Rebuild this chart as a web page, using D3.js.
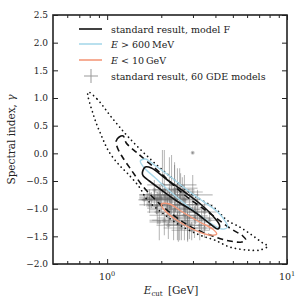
<!DOCTYPE html>
<meta charset="utf-8">
<script src="https://d3js.org/d3.v7.min.js"></script>
<style>
  body { margin: 0; background: #fff; }
  text { font-family: "DejaVu Serif", "Liberation Serif", serif; fill: #222; }
  .frame { fill: none; stroke: #222; stroke-width: 1.6; }
  .tick line { stroke: #222; }
</style>
<body></body>
<script>

// ---- data (E_cut in GeV, gamma) ----

// 3 sigma region (dotted)
var sigma3 = [
  [0.783, 1.108], [0.879, 0.982], [1.066, 0.638], [1.327, 0.277], [1.762, -0.121],
  [2.367, -0.482], [3.062, -0.771], [3.96, -0.988], [4.62, -1.205], [5.463, -1.332],
  [6.376, -1.476], [7.34, -1.621], [7.83, -1.675], [7.07, -1.747], [5.98, -1.747],
  [4.80, -1.693], [3.96, -1.567], [3.266, -1.476], [2.525, -1.295], [2.029, -1.079],
  [1.673, -0.844], [1.509, -0.609], [1.293, -0.356], [1.167, -0.211], [1.026, 0.024],
  [0.926, 0.331], [0.846, 0.657]
];

// 2 sigma region (dashed)
var sigma2 = [
  [1.123, 0.223], [1.167, 0.295], [1.228, 0.313], [1.277, 0.187], [1.471, 0.006],
  [1.952, -0.338], [2.693, -0.753], [3.714, -1.079], [4.803, -1.350], [5.678, -1.494],
  [5.90, -1.567], [5.605, -1.603], [4.803, -1.585], [3.860, -1.494], [2.871, -1.313],
  [2.082, -0.988], [1.610, -0.627], [1.362, -0.301], [1.197, -0.030], [1.137, 0.114]
];

// 1 sigma, standard result model F
var sigma1 = [
  [1.569, -0.356], [1.630, -0.247], [1.762, -0.265], [2.164, -0.482], [2.693, -0.699],
  [3.351, -0.934], [3.961, -1.169], [4.224, -1.313], [4.117, -1.368], [3.811, -1.296],
  [3.062, -1.060], [2.461, -0.870], [2.003, -0.663], [1.717, -0.500], [1.589, -0.410]
];

// 1 sigma, E > 600 MeV
var sigmaHigh = [
  [1.529, -0.139], [1.630, -0.103], [1.830, -0.211], [2.221, -0.410], [2.693, -0.627],
  [3.266, -0.826], [4.117, -1.060], [4.563, -1.241], [4.68, -1.332], [4.335, -1.368],
  [3.483, -1.187], [2.798, -0.952], [2.221, -0.681], [1.830, -0.428], [1.610, -0.265]
];

// 1 sigma, E < 10 GeV
var sigmaLow = [
  [2.000, -0.916], [2.221, -0.916], [2.624, -1.060], [3.266, -1.241], [3.860, -1.368],
  [4.064, -1.458], [3.714, -1.476], [2.985, -1.368], [2.429, -1.205], [2.082, -1.024]
];

// 60 GDE models: best fit and error bar ends
var gdeE    = [2.08,2.22,2.37,1.95,1.83,1.72,2.53,2.16,2.28,1.90,2.69,2.46,2.00,2.87,2.37,2.53,2.69,2.22,3.06,2.46,
               2.80,2.08,3.27,2.59,1.95,2.95,1.72,1.61,1.83,2.03,2.28,2.46,2.62,2.99,3.18,3.48,3.71,2.16,2.34,1.90,
               2.99,1.76,1.67,2.40,2.73,2.11,2.56,2.25,3.10,3.35,2.80,2.49,2.19,1.88,1.98,2.66,2.37,2.87,3.48,2.22];
var gdeELo  = [1.83,1.83,1.83,1.51,1.51,1.51,1.83,1.57,1.76,1.51,2.22,1.90,1.65,2.22,1.72,1.83,2.08,1.72,2.37,1.78,
               2.03,1.72,2.69,2.06,1.72,2.28,1.51,1.49,1.61,1.67,2.00,2.16,2.25,2.46,2.46,2.87,3.06,1.67,1.90,1.67,
               2.95,1.55,1.51,1.81,2.16,1.76,2.03,1.78,2.56,2.76,2.31,2.06,1.88,1.65,1.65,2.16,2.03,2.22,3.06,1.81];
var gdeEHi  = [3.06,3.06,3.06,2.37,2.37,2.37,3.27,2.80,3.14,2.31,3.27,3.18,2.76,3.48,3.27,3.27,3.27,3.27,3.71,3.62,
               3.62,2.87,3.96,3.35,2.53,3.71,2.22,1.95,2.37,2.62,3.14,3.18,3.40,3.86,3.86,4.06,4.12,2.99,3.10,2.53,
               3.02,2.14,2.03,3.18,3.53,2.66,3.22,2.84,3.76,3.91,3.62,3.02,2.84,2.37,2.43,3.27,2.87,3.81,3.96,2.87];
var gdeG    = [-0.66,-0.70,-0.75,-0.75,-0.79,-0.75,-0.81,-0.84,-0.88,-0.84,-0.84,-0.93,-0.93,-0.99,-1.02,-1.06,-1.12,-1.12,-1.17,-1.21,
               -1.24,-1.21,-1.30,-1.35,-1.24,-1.39,-0.93,-0.84,-0.66,-0.57,-0.57,-0.63,-0.70,-0.75,-0.93,-1.06,-1.21,-0.99,-1.17,-1.06,
               0.01,-0.84,-0.81,-0.84,-1.02,-0.77,-0.75,-0.95,-1.06,-1.17,-1.13,-1.28,-1.30,-0.95,-0.81,-0.93,-0.66,-1.30,-1.35,-0.81];
var gdeGLo  = [-0.93,-0.88,-0.93,-0.93,-0.93,-0.86,-0.95,-1.02,-1.10,-1.02,-1.02,-1.21,-1.12,-1.17,-1.17,-1.57,-1.57,-1.26,-1.53,-1.57,
               -1.57,-1.48,-1.57,-1.57,-1.57,-1.57,-1.08,-0.95,-0.81,-0.75,-0.75,-0.84,-0.88,-1.02,-1.21,-1.33,-1.39,-1.17,-1.57,-1.28,
               -0.01,-0.99,-0.92,-1.06,-1.30,-0.92,-0.90,-1.10,-1.28,-1.39,-1.60,-1.60,-1.55,-1.10,-0.95,-1.12,-0.81,-1.55,-1.53,-0.99];
var gdeGHi  = [0.06,-0.07,-0.21,-0.57,-0.65,-0.65,-0.27,-0.66,-0.70,-0.70,-0.39,-0.66,-0.75,-0.72,-0.88,-0.88,-0.93,-0.97,-0.95,-1.06,
               -1.06,-1.06,-1.12,-1.21,-1.06,-1.24,-0.79,-0.74,-0.48,0.06,-0.03,-0.27,-0.43,-0.39,-0.66,-0.88,-1.06,-0.81,-1.02,-0.92,
               0.03,-0.70,-0.70,-0.63,-0.81,-0.63,-0.36,-0.81,-0.88,-1.02,-0.99,-1.13,-1.15,-0.81,-0.59,-0.57,-0.16,-1.15,-1.21,-0.63];

// axes
var xDomain = [0.5, 10];
var yDomain = [-2, 2.5];
var xMajor = [1, 10];
var xMinor = [0.6, 0.7, 0.8, 0.9, 2, 3, 4, 5, 6, 7, 8, 9];
var yTicks = [-2, -1.5, -1, -0.5, 0, 0.5, 1, 1.5, 2, 2.5];

// legend
var legendItems = [
  {label: "standard result, model F", kind: "line", color: "#111"},
  {label: "E > 600 MeV", kind: "line", color: "#a8d8ea"},
  {label: "E < 10 GeV", kind: "line", color: "#f4997a"},
  {label: "standard result, 60 GDE models", kind: "cross", color: "#999"}
];

// ---- layout ----
var width = 300, height = 300;
var mLeft = 53, mRight = 287, mTop = 15, mBottom = 264;

var svg = d3.select("body").append("svg")
    .attr("width", width)
    .attr("height", height);

var x = d3.scaleLog().domain(xDomain).range([mLeft, mRight]);
var y = d3.scaleLinear().domain(yDomain).range([mBottom, mTop]);

svg.append("defs").append("clipPath").attr("id", "clip")
  .append("rect").attr("x", mLeft).attr("y", mTop).attr("width", mRight - mLeft).attr("height", mBottom - mTop);

var plot = svg.append("g").attr("clip-path", "url(#clip)");

// GDE error bars
var gde = gdeE.map(function(e, i) {
  return {e: e, eLo: gdeELo[i], eHi: gdeEHi[i], g: gdeG[i], gLo: gdeGLo[i], gHi: gdeGHi[i]};
});

var bars = plot.append("g")
    .attr("stroke", "#666")
    .attr("stroke-opacity", 0.45)
    .attr("stroke-width", 1.1);

bars.selectAll(".hbar").data(gde).enter().append("line")
    .attr("x1", function(d) { return x(d.eLo); })
    .attr("x2", function(d) { return x(d.eHi); })
    .attr("y1", function(d) { return y(d.g); })
    .attr("y2", function(d) { return y(d.g); });

bars.selectAll(".vbar").data(gde).enter().append("line")
    .attr("x1", function(d) { return x(d.e); })
    .attr("x2", function(d) { return x(d.e); })
    .attr("y1", function(d) { return y(d.gLo); })
    .attr("y2", function(d) { return y(d.gHi); });

plot.append("g").selectAll("circle").data(gde).enter().append("circle")
    .attr("cx", function(d) { return x(d.e); })
    .attr("cy", function(d) { return y(d.g); })
    .attr("r", 2)
    .attr("fill", "#666")
    .attr("fill-opacity", 0.35);

// contours
var contour = d3.line()
    .x(function(d) { return x(d[0]); })
    .y(function(d) { return y(d[1]); })
    .curve(d3.curveCatmullRomClosed.alpha(0.5));

plot.append("path").attr("d", contour(sigma3))
    .attr("fill", "none").attr("stroke", "#111").attr("stroke-width", 1.7)
    .attr("stroke-dasharray", "0.1,4.4").attr("stroke-linecap", "round");

plot.append("path").attr("d", contour(sigma2))
    .attr("fill", "none").attr("stroke", "#111").attr("stroke-width", 1.6)
    .attr("stroke-dasharray", "6,4");

plot.append("path").attr("d", contour(sigmaHigh))
    .attr("fill", "none").attr("stroke", legendItems[1].color).attr("stroke-width", 1.4);

plot.append("path").attr("d", contour(sigmaLow))
    .attr("fill", "none").attr("stroke", legendItems[2].color).attr("stroke-width", 1.4);

plot.append("path").attr("d", contour(sigma1))
    .attr("fill", "none").attr("stroke", "#111").attr("stroke-width", 1.6);

// ticks (inward, all four sides)
var axes = svg.append("g");

axes.append("g").attr("transform", "translate(0," + mBottom + ")")
    .call(d3.axisBottom(x).tickValues(xMajor).tickSize(-5).tickFormat(""));
axes.append("g").attr("transform", "translate(0," + mBottom + ")")
    .call(d3.axisBottom(x).tickValues(xMinor).tickSize(-3).tickFormat(""));
axes.append("g").attr("transform", "translate(0," + mTop + ")")
    .call(d3.axisTop(x).tickValues(xMajor).tickSize(-5).tickFormat(""));
axes.append("g").attr("transform", "translate(0," + mTop + ")")
    .call(d3.axisTop(x).tickValues(xMinor).tickSize(-3).tickFormat(""));

var yLeft = axes.append("g").attr("transform", "translate(" + mLeft + ",0)")
    .call(d3.axisLeft(y).tickValues(yTicks).tickSize(-5).tickPadding(5).tickFormat(d3.format(".1f")));
axes.append("g").attr("transform", "translate(" + mRight + ",0)")
    .call(d3.axisRight(y).tickValues(yTicks).tickSize(-5).tickFormat(""));

axes.selectAll(".domain").remove();
yLeft.selectAll("text").attr("font-size", 9).attr("font-family", "DejaVu Serif").attr("fill", "#222");

svg.append("rect").attr("class", "frame")
    .attr("x", mLeft).attr("y", mTop).attr("width", mRight - mLeft).attr("height", mBottom - mTop);

// x tick labels 10^0, 10^1
xMajor.forEach(function(v) {
  var t = svg.append("text").attr("x", x(v)).attr("y", 280)
      .attr("text-anchor", "middle").attr("font-size", 9.5);
  t.append("tspan").text("10");
  t.append("tspan").attr("dy", -4).attr("font-size", 6.5).text(Math.round(Math.log10(v)));
});

// axis labels
var xl = svg.append("text").attr("x", 171).attr("y", 294)
    .attr("text-anchor", "middle").attr("font-size", 10.5);
xl.append("tspan").attr("font-style", "italic").text("E");
xl.append("tspan").attr("dy", 2).attr("font-size", 7).text("cut");
xl.append("tspan").attr("dy", -2).text("\u2002[GeV]");

var yl = svg.append("text")
    .attr("transform", "translate(15," + ((mTop + mBottom) / 2) + ") rotate(-90)")
    .attr("text-anchor", "middle").attr("font-size", 10.5);
yl.append("tspan").text("Spectral index, ");
yl.append("tspan").attr("font-style", "italic").text("\u03b3");

// legend
var legendY = [29, 44, 60, 76];
var legend = svg.append("g");
legendItems.forEach(function(item, i) {
  var ly = legendY[i];
  if (item.kind === "line") {
    legend.append("line").attr("x1", 79).attr("x2", 102).attr("y1", ly).attr("y2", ly)
        .attr("stroke", item.color).attr("stroke-width", 1.6);
  } else {
    legend.append("line").attr("x1", 84).attr("x2", 98).attr("y1", ly).attr("y2", ly)
        .attr("stroke", item.color).attr("stroke-width", 1);
    legend.append("line").attr("x1", 91).attr("x2", 91).attr("y1", ly - 7).attr("y2", ly + 7)
        .attr("stroke", item.color).attr("stroke-width", 1);
  }
  var t = legend.append("text").attr("x", 111).attr("y", ly + 3.5).attr("font-size", 9.5);
  if (i === 1 || i === 2) {
    var parts = item.label.split(" ");
    t.append("tspan").attr("font-style", "italic").text(parts[0]);
    t.append("tspan").text(" " + parts[1] + " " + parts[2] + "\u2009" + parts[3]);
  } else {
    t.text(item.label);
  }
});

</script>
